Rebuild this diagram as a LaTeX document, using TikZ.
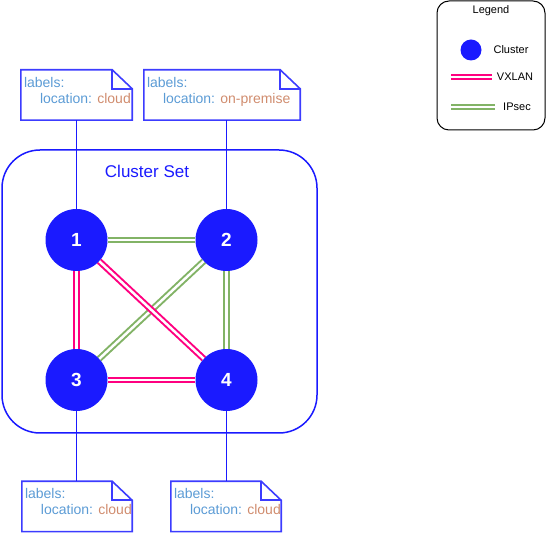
\documentclass[tikz,border=0pt]{standalone}
\usepackage{fontspec}
\setmainfont{Liberation Sans}
\usepackage{tikz}
\definecolor{setblue}{RGB}{26,26,255}
\definecolor{keyblue}{RGB}{91,155,213}
\definecolor{valorange}{RGB}{208,140,110}
\definecolor{vxlanpink}{RGB}{255,0,128}
\definecolor{ipsecgreen}{RGB}{130,179,102}

\newcommand{\labelnote}[4]{%
  \node[notefr,minimum width=#3] (#1) at #2 {};
  \draw[noteline] (#1.north west) -- ([xshift=-20pt]#1.north east) -- ([yshift=-19pt]#1.north east)
    -- (#1.south east) -- (#1.south west) -- cycle;
  \draw[noteline] ([xshift=-20pt]#1.north east) |- ([yshift=-19pt]#1.north east);
  \node[notetext] (#1txt) at ([xshift=3pt,yshift=-7pt]#1.north west)
    {\textcolor{keyblue}{labels:}\\\hspace*{16pt}\textcolor{keyblue}{location:} \textcolor{valorange}{#4}};
}

\begin{document}
\begin{tikzpicture}[x=1pt,y=-1pt,
  cluster/.style={circle,fill=setblue,minimum size=62pt,inner sep=0pt,text=white,
    font=\fontsize{19}{19}\selectfont\bfseries},
  vxlan/.style={draw=vxlanpink,line width=2pt,double=white,double distance=2.5pt},
  ipsec/.style={vxlan,draw=ipsecgreen},
  notefr/.style={minimum height=50pt,inner sep=0pt},
  noteline/.style={draw=setblue!85!white,line width=1.6pt},
  notetext/.style={anchor=north west,inner sep=0pt,align=left,font=\fontsize{14}{16}\selectfont},
  tie/.style={draw=setblue,line width=1pt},
  legtext/.style={inner sep=0pt,font=\fontsize{11}{11}\selectfont}]
\useasboundingbox (0,0) rectangle (547,534);

\node[draw=setblue,line width=1.5pt,rounded corners=38pt,minimum width=315pt,minimum height=283pt] (set) at (159.5,291.5) {};
\node[text=setblue,font=\fontsize{17}{17}\selectfont] (settitle) at (147,171) {Cluster Set};

\node[cluster] (c1) at (76.5,240) {1};
\node[cluster] (c2) at (226.5,240) {2};
\node[cluster] (c3) at (76.5,380) {3};
\node[cluster] (c4) at (226.5,380) {4};

\draw[ipsec] (c1) -- (c2);
\draw[ipsec] (c2) -- (c4);
\draw[ipsec] (c2) -- (c3);
\draw[vxlan] (c1) -- (c3);
\draw[vxlan] (c1) -- (c4);
\draw[vxlan] (c3) -- (c4);

\labelnote{n1}{(76.5,95)}{111pt}{cloud}
\labelnote{n2}{(222,95)}{156pt}{on-premise}
\labelnote{n3}{(77,506.5)}{110pt}{cloud}
\labelnote{n4}{(226,506.5)}{110pt}{cloud}

\draw[tie] (n1.south -| c1) -- (c1);
\draw[tie] (n2.south -| c2) -- (c2);
\draw[tie] (c3) -- (n3.north -| c3);
\draw[tie] (c4) -- (n4.north -| c4);

\node[draw=black,line width=1pt,rounded corners=12pt,minimum width=108pt,minimum height=129pt] (legend) at (491,65.5) {};
\node[legtext] (legtitle) at (491,11) {Legend};
\node[cluster,minimum size=21pt] (legdot) at (471,50) {};
\node[legtext] (legclu) at (511,50) {Cluster};
\coordinate (vx1) at (451,77);
\coordinate (vx2) at (492,77);
\draw[vxlan,line width=1.6pt,double distance=2pt] (vx1) -- (vx2);
\node[legtext] (legvx) at (515,77) {VXLAN};
\coordinate (ip1) at (451,107);
\coordinate (ip2) at (495,107);
\draw[ipsec,line width=1.6pt,double distance=2pt] (ip1) -- (ip2);
\node[legtext] (legip) at (517,107) {IPsec};
\end{tikzpicture}
\end{document}
